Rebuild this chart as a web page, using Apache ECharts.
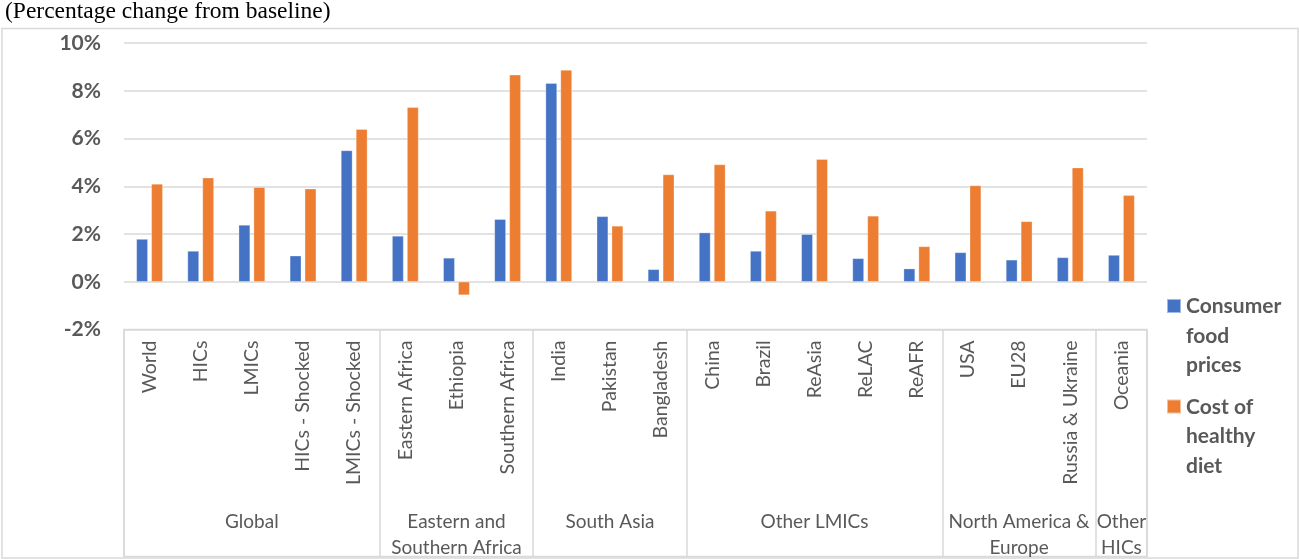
<!DOCTYPE html>
<html>
	<head>
		<meta charset="UTF-8">
		<script src="https://cdn.jsdelivr.net/npm/echarts@6/dist/echarts.min.js" type="text/javascript" charset="utf-8"></script>
		<title></title>
		<style>
			body { margin: 0; background: #fff; }
		</style>
	</head>
	<body>
		<div id="main1" style="width: 1299px;height:559px;"></div>

		<script type="text/javascript">
			// categories
			var categories = ['World', 'HICs', 'LMICs', 'HICs - Shocked', 'LMICs - Shocked',
				'Eastern Africa', 'Ethiopia', 'Southern Africa',
				'India', 'Pakistan', 'Bangladesh',
				'China', 'Brazil', 'ReAsia', 'ReLAC', 'ReAFR',
				'USA', 'EU28', 'Russia & Ukraine',
				'Oceania'];
			var groupNames = ['Global', 'Eastern and\nSouthern Africa', 'South Asia', 'Other LMICs', 'North America &\nEurope', 'Other\nHICs'];
			var groupSizes = [5, 3, 3, 5, 3, 1];
			// percentage change from baseline
			var consumerFoodPrices = [1.79, 1.29, 2.38, 1.09, 5.5, 1.92, 1.0, 2.62, 8.32, 2.74, 0.52, 2.06, 1.29, 1.99, 0.98, 0.55, 1.23, 0.92, 1.02, 1.12];
			var costOfHealthyDiet = [4.1, 4.36, 3.96, 3.9, 6.39, 7.31, -0.56, 8.67, 8.87, 2.34, 4.49, 4.91, 2.97, 5.13, 2.76, 1.48, 4.03, 2.53, 4.78, 3.62];
			var yTicks = [-2, 0, 2, 4, 6, 8, 10];
			var seriesNames = ['Consumer food prices', 'Cost of healthy diet'];
			var legendText = {
				'Consumer food prices': 'Consumer\nfood\nprices',
				'Cost of healthy diet': 'Cost of\nhealthy\ndiet'
			};

			// group boundaries and group label positions (middle category of each group)
			var boundaries = [];
			var groupLabelAt = {};
			var start = 0;
			for (var i = 0; i < groupSizes.length; i++) {
				boundaries.push(start);
				groupLabelAt[start + Math.floor(groupSizes[i] / 2)] = groupNames[i];
				start += groupSizes[i];
			}
			boundaries.push(start);

			var gridColor = '#d9d9d9';
			var textGrey = '#595959';
			// square at the first text line, tall box so the text is centred below it
			var legendIcon = 'path://M0,0L0,0M0,7.5H14V21.5H0ZM14,88.5L14,88.5';

			var myChart = echarts.init(document.getElementById('main1'));

			var option = {
				animation: false,
				title: {
					text: '(Percentage change from baseline)',
					left: 0,
					top: -5,
					textStyle: {
						fontFamily: '"Liberation Serif", "Times New Roman", serif',
						fontWeight: 'normal',
						fontSize: 23.5,
						color: '#000'
					}
				},
				graphic: [{
					type: 'rect',
					silent: true,
					shape: { x: 2, y: 28.5, width: 1296, height: 529.5 },
					style: { fill: 'none', stroke: gridColor, lineWidth: 1.5 }
				}],
				legend: {
					orient: 'vertical',
					left: 1161,
					top: 285.5,
					itemWidth: 14,
					itemHeight: 88.5,
					itemGap: 10,
					icon: legendIcon,
					data: seriesNames,
					formatter: function(name) {
						return legendText[name];
					},
					textStyle: {
						fontFamily: 'Lato',
						fontWeight: 'bold',
						fontSize: 21,
						lineHeight: 29.5,
						color: textGrey
					}
				},
				grid: [{
					left: 124,
					right: 152,
					top: 43,
					bottom: 229.5
				}, {
					left: 124,
					right: 152,
					top: 329.5,
					bottom: 1,
					show: true,
					borderColor: gridColor,
					borderWidth: 1.5
				}],
				xAxis: [{
					type: 'category',
					gridIndex: 0,
					data: categories,
					axisLine: { show: false },
					axisTick: { show: false },
					axisLabel: {
						interval: 0,
						rotate: 90,
						margin: 11,
						fontFamily: 'Lato',
						fontSize: 19.5,
						color: textGrey
					}
				}, {
					type: 'category',
					gridIndex: 1,
					position: 'top',
					data: categories,
					axisLine: { show: false },
					axisTick: { show: false },
					axisLabel: {
						inside: true,
						interval: 0,
						margin: 179,
						fontFamily: 'Lato',
						fontSize: 19,
						lineHeight: 26,
						color: textGrey,
						formatter: function(value, index) {
							return groupLabelAt[index] || '';
						}
					},
					splitLine: {
						show: true,
						interval: function(index) {
							return boundaries.indexOf(index) >= 0;
						},
						lineStyle: { color: gridColor, width: 1.5 }
					}
				}],
				yAxis: [{
					type: 'value',
					gridIndex: 0,
					min: yTicks[0],
					max: yTicks[yTicks.length - 1],
					interval: 2,
					axisLine: { show: false },
					axisTick: { show: false },
					axisLabel: {
						margin: 23,
						fontFamily: 'Lato',
						fontWeight: 'bold',
						fontSize: 21,
						color: textGrey,
						formatter: '{value}%'
					},
					splitLine: {
						lineStyle: { color: gridColor, width: 1.5 }
					}
				}, {
					type: 'value',
					gridIndex: 1,
					show: false
				}],
				series: [{
					name: seriesNames[0],
					type: 'bar',
					xAxisIndex: 0,
					yAxisIndex: 0,
					barWidth: 11.5,
					barGap: '30%',
					itemStyle: {
						color: '#4472c4',
						borderColor: 'rgba(255,255,255,0.5)',
						borderWidth: 0.6
					},
					data: consumerFoodPrices
				}, {
					name: seriesNames[1],
					type: 'bar',
					xAxisIndex: 0,
					yAxisIndex: 0,
					barWidth: 11.5,
					barGap: '30%',
					itemStyle: {
						color: '#ed7d31',
						borderColor: 'rgba(255,255,255,0.5)',
						borderWidth: 0.6
					},
					data: costOfHealthyDiet
				}]
			};

			myChart.setOption(option);
		</script>
	</body>
</html>
